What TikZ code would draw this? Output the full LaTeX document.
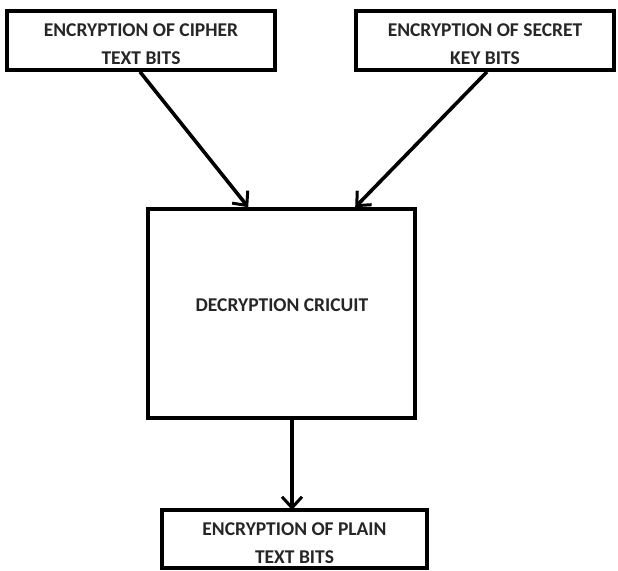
\documentclass[tikz,border=0pt]{standalone}
\usepackage{fontspec}
\setmainfont{Carlito}
\usetikzlibrary{arrows.meta,calc}
\begin{document}
\begin{tikzpicture}[x=1pt,y=-1pt,
  box/.style={draw=black, line width=3.6pt, fill=white, rectangle, inner sep=0pt},
  caption/.style={align=center, inner sep=0pt,
    font=\bfseries\fontsize{19.5}{28}\selectfont, text=black!85},
  flow/.style={line width=3.6pt, draw=black,
    -{Straight Barb[length=11pt,width=20pt,line width=3pt]}}]
  \useasboundingbox[fill=white] (0,0) rectangle (618,570);

  % input and output blocks
  \node[box, minimum width=268pt, minimum height=59pt] (cipher) at (141,40.5) {};
  \node[box, minimum width=258pt, minimum height=59pt] (secret) at (485,40.5) {};
  \node[box, minimum width=267pt, minimum height=209pt] (dec) at (281.5,313.5) {};
  \node[box, minimum width=265pt, minimum height=58pt] (plain) at (294.5,539) {};

  % block captions
  \node[caption, yshift=-4pt] (cipherText) at (cipher.center) {ENCRYPTION OF CIPHER\\TEXT BITS};
  \node[caption, yshift=-4pt] (secretText) at (secret.center) {ENCRYPTION OF SECRET\\KEY BITS};
  \node[caption] (decText) at (282,305) {DECRYPTION CRICUIT};
  \node[caption, yshift=-4pt] (plainText) at (plain.center) {ENCRYPTION OF PLAIN\\TEXT BITS};

  % connectors
  \coordinate (inA) at ($(dec.north west)+(102,0)$);
  \coordinate (inB) at ($(dec.north west)+(209,0)$);
  \coordinate (outC) at (292,418);
  \coordinate (inC) at (292,510);
  \draw[flow] ($(cipher.south)+(-1,0)$) -- (inA);
  \draw[flow] ($(secret.south)+(2,0)$) -- (inB);
  \draw[flow] (outC) -- (inC);
\end{tikzpicture}
\end{document}
